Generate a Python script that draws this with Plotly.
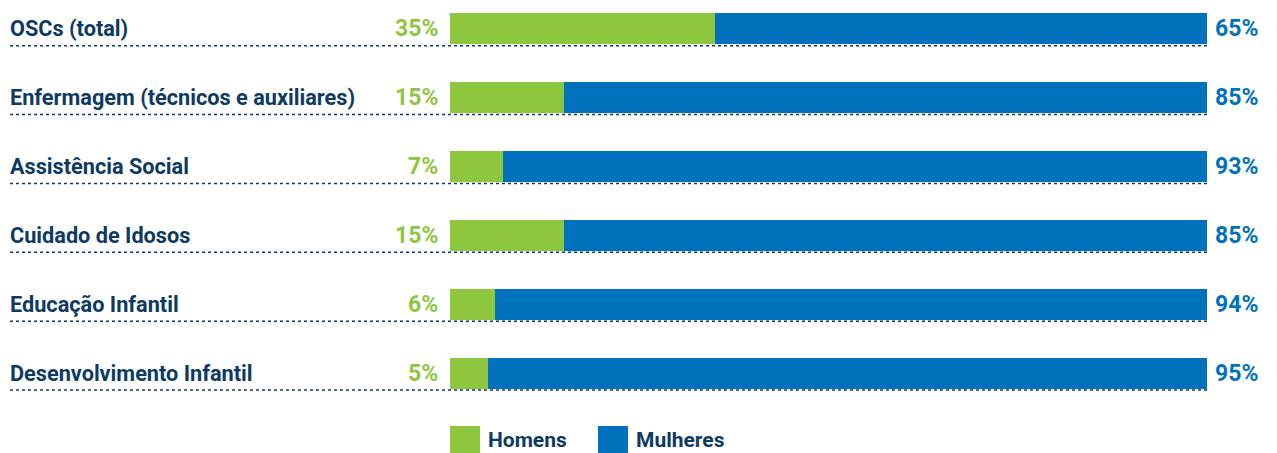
import plotly.graph_objects as go

categories = ["OSCs (total)", "Enfermagem (técnicos e auxiliares)", "Assistência Social",
              "Cuidado de Idosos", "Educação Infantil", "Desenvolvimento Infantil"]
homens = [35, 15, 7, 15, 6, 5]
mulheres = [65, 85, 93, 85, 94, 95]
series_names = ["Homens", "Mulheres"]

GREEN = "#8dc63f"
BLUE = "#0071bc"
NAVY = "#0d3a63"
FONT = "Roboto"
FS_LABEL = 21.7
FS_PCT = 23
FS_LEG = 21
WEIGHT = "bold"

W, H = 1277, 453
L, R, T, B = 450, 70, 0, 43
pw = W - L - R
ph = H - T - B

fig = go.Figure()
fig.add_trace(go.Bar(y=categories, x=homens, orientation="h", marker=dict(color=GREEN, line=dict(width=0)),
                     name=series_names[0], width=0.45, hoverinfo="x+y"))
fig.add_trace(go.Bar(y=categories, x=mulheres, orientation="h", marker=dict(color=BLUE, line=dict(width=0)),
                     name=series_names[1], width=0.45, hoverinfo="x+y"))

annotations = []
shapes = []
x_left_paper = (10 - L) / pw
x_text_paper = (8 - L) / pw
for i, c in enumerate(categories):
    annotations.append(dict(x=x_text_paper, xref="paper", y=i, yref="y", text=c,
                            xanchor="left", yanchor="middle", showarrow=False,
                            font=dict(family=FONT, size=FS_LABEL, color=NAVY, weight=WEIGHT)))
    annotations.append(dict(x=0, xref="x", y=i, yref="y", text=f"{homens[i]}%",
                            xanchor="right", yanchor="middle", showarrow=False, xshift=-10,
                            font=dict(family=FONT, size=FS_PCT, color=GREEN, weight=WEIGHT)))
    annotations.append(dict(x=100, xref="x", y=i, yref="y", text=f"{mulheres[i]}%",
                            xanchor="left", yanchor="middle", showarrow=False, xshift=6,
                            font=dict(family=FONT, size=FS_PCT, color=BLUE, weight=WEIGHT)))
    shapes.append(dict(type="line", xref="paper", yref="y", x0=x_left_paper, x1=1,
                       y0=i + 0.245, y1=i + 0.245, line=dict(color=NAVY, width=1.5, dash="dot")))

def px_to_paper_x(px):
    return (px - L) / pw

def px_to_paper_y(py):
    return (ph + T - py) / ph

leg = [(450, GREEN, series_names[0]), (598, BLUE, series_names[1])]
for x0, col, name in leg:
    shapes.append(dict(type="rect", xref="paper", yref="paper",
                       x0=px_to_paper_x(x0), x1=px_to_paper_x(x0 + 30),
                       y0=px_to_paper_y(426), y1=px_to_paper_y(453),
                       fillcolor=col, line=dict(width=0)))
    annotations.append(dict(x=px_to_paper_x(x0 + 36), xref="paper", y=px_to_paper_y(440), yref="paper",
                            text=name, xanchor="left", yanchor="middle", showarrow=False,
                            font=dict(family=FONT, size=FS_LEG, color=NAVY, weight=WEIGHT)))

fig.update_layout(
    width=W, height=H, margin=dict(l=L, r=R, t=T, b=B),
    barmode="stack", showlegend=False,
    paper_bgcolor="white", plot_bgcolor="white",
    xaxis=dict(range=[0, 100], visible=False, fixedrange=True),
    yaxis=dict(range=[5.536, -0.42],
               visible=False, type="category", categoryorder="array", categoryarray=categories,
               fixedrange=True),
    annotations=annotations, shapes=shapes,
    bargap=0,
)
fig.write_html("out.html")
